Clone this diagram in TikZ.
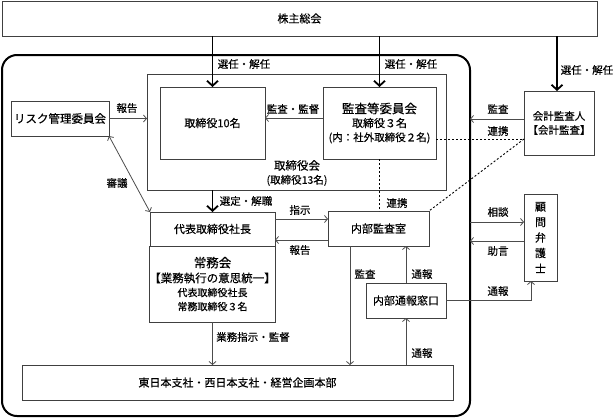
\documentclass[tikz,border=0pt]{standalone}
\usepackage{fontspec}
\setmainfont{Noto Sans CJK JP}[FakeBold=0.4]
\usetikzlibrary{arrows.meta}

\tikzset{
  box/.style={draw=black!75, line width=0.8pt, inner sep=0pt, outer sep=0pt,
    align=center, font=\fontsize{11}{14}\selectfont},
  lbl/.style={inner sep=0pt, font=\fontsize{10.5}{12}\selectfont},
  arr/.style={draw=black!70, line width=0.8pt, -{Straight Barb[length=3pt,width=7pt]}},
  biarr/.style={draw=black!70, line width=0.8pt,
    {Straight Barb[length=3pt,width=7pt]}-{Straight Barb[length=3pt,width=7pt]}},
  bigarr/.style={line width=1.8pt, -{Straight Barb[length=5pt,width=11pt]}},
  link/.style={line width=0.9pt, dash pattern=on 2pt off 2pt},
}

\begin{document}
\begin{tikzpicture}[x=1pt,y=-1pt]
\useasboundingbox (0,0) rectangle (613,418);
% boxes
\node[box, minimum width=595pt, minimum height=35pt] (agm) at (299.5,18.5) {株主総会};
\node[draw, line width=2pt, rounded corners=15pt, minimum width=468pt,
  minimum height=361pt, inner sep=0pt, outer sep=0pt] (frame) at (236,235.5) {};
\node[box, minimum width=299pt, minimum height=116pt] (board) at (296.5,132) {};
\node[inner sep=0pt, align=center, font=\fontsize{11.5}{14}\selectfont] (boardtxt) at (297,173)
  {取締役会\\{\fontsize{10.5}{12}\selectfont (取締役13名)}};
\node[box, minimum width=105pt, minimum height=72pt] (dir) at (212.5,123) {取締役10名};
\node[box, minimum width=113pt, minimum height=72pt] (acc) at (379.5,123)
  {{\fontsize{12.5}{14}\selectfont 監査等委員会}\\取締役３名\\{\fontsize{10.5}{12}\selectfont (内：社外取締役２名)}};
\node[box, minimum width=98pt, minimum height=35pt, font=\fontsize{11.5}{14}\selectfont] (risk) at (60,118.5) {リスク管理委員会};
\node[box, minimum width=70pt, minimum height=64pt, font=\fontsize{10.5}{14}\selectfont] (auditor) at (559,123)
  {会計監査人\\【会計監査】};
\node[box, minimum width=125pt, minimum height=34pt] (pres) at (212.5,229) {代表取締役社長};
\node[box, minimum width=125pt, minimum height=76pt] (exec) at (212.5,284)
  {{\fontsize{12.5}{13}\selectfont 常務会}\\[1pt]{\fontsize{11.5}{15}\selectfont 【業務執行の意思統一】}\\
   {\fontsize{10}{16}\selectfont 代表取締役社長}\\{\fontsize{10}{16}\selectfont 常務取締役３名}};
\node[box, minimum width=101pt, minimum height=35pt] (ia) at (378.5,228.5) {内部監査室};
\node[box, minimum width=80pt, minimum height=35pt] (hot) at (406,300.5) {内部通報窓口};
\node[box, minimum width=33pt, minimum height=87pt, font=\fontsize{11}{15.5}\selectfont] (lawyer) at (540.5,237.5)
  {顧\\問\\弁\\護\\士};
\node[box, minimum width=431pt, minimum height=35pt] (branch) at (237.5,382.5) {東日本支社・西日本支社・経営企画本部};

% thick arrows
\draw[bigarr] (agm.south -| dir.north) -- (dir.north);
\draw[bigarr] (agm.south -| acc.north) -- (acc.north);
\draw[bigarr] (agm.south -| 557,0) -- (auditor.north -| 557,0);
\draw[bigarr] (board.south -| pres.north) -- (pres.north);
\node[lbl] (sel1) at (244,64) {選任・解任};
\node[lbl] (sel2) at (411,64) {選任・解任};
\node[lbl] (sel3) at (587,70) {選任・解任};
\node[lbl] (sel4) at (246,201) {選定・解職};

% thin arrows
\draw[arr] (risk.east) -- (risk.east -| board.west);
\node[lbl] (rep1) at (127,108) {報告};
\draw[arr] ([yshift=5pt]acc.west) -- ([yshift=5pt]acc.west -| dir.east);
\node[lbl] (sup) at (293,109) {監査・監督};
\draw[biarr] (risk.south east) -- (pres.north west);
\node[lbl] (delib) at (117,183) {審議};
\draw[arr] ([yshift=-7pt]pres.north east) -- ([yshift=-7pt]pres.north east -| ia.west);
\node[lbl] (instr) at (300,210) {指示};
\draw[arr] ([yshift=6pt]pres.south east -| ia.west) -- ([yshift=6pt]pres.south east);
\node[lbl] (rep2) at (300,250) {報告};
\draw[arr] (exec.south) -- (exec.south |- branch.north);
\node[lbl] (order) at (253,337) {業務指示・監督};
\draw[arr] ([xshift=22pt]ia.south west) -- ([xshift=22pt]ia.south west |- branch.north);
\node[lbl] (aud1) at (365,274) {監査};
\draw[arr] (hot.north) -- (hot.north |- ia.south);
\node[lbl] (rpt1) at (422,274) {通報};
\draw[arr] (branch.north -| hot.south) -- (hot.south);
\node[lbl] (rpt2) at (422,353) {通報};
\draw[arr] (hot.east) -| ([xshift=7pt]lawyer.south west);
\node[lbl] (rpt3) at (498,291) {通報};
\draw[arr] ([yshift=-28pt]lawyer.north west -| frame.east) -- ([yshift=-28pt]lawyer.north west);
\node[lbl] (cons) at (498,212) {相談};
\draw[arr] ([yshift=-47pt]lawyer.north west) -- ([yshift=-47pt]lawyer.north west -| frame.east);
\node[lbl] (adv) at (498,251) {助言};
\draw[arr] ([yshift=-28pt]auditor.north west) -- ([yshift=-28pt]auditor.north west -| frame.east);
\node[lbl] (aud2) at (498,109) {監査};

% cooperation (dashed)
\draw[link] ([yshift=20pt]acc.south east) -- ([yshift=20pt]acc.south east -| auditor.west);
\node[lbl] (coop1) at (498,131) {連携};
\draw[link] ([yshift=16pt]auditor.south west) -- (ia.north east);
\draw[link] (acc.south) -- (acc.south |- ia.north);
\node[lbl] (coop2) at (397,203) {連携};
\end{tikzpicture}
\end{document}
